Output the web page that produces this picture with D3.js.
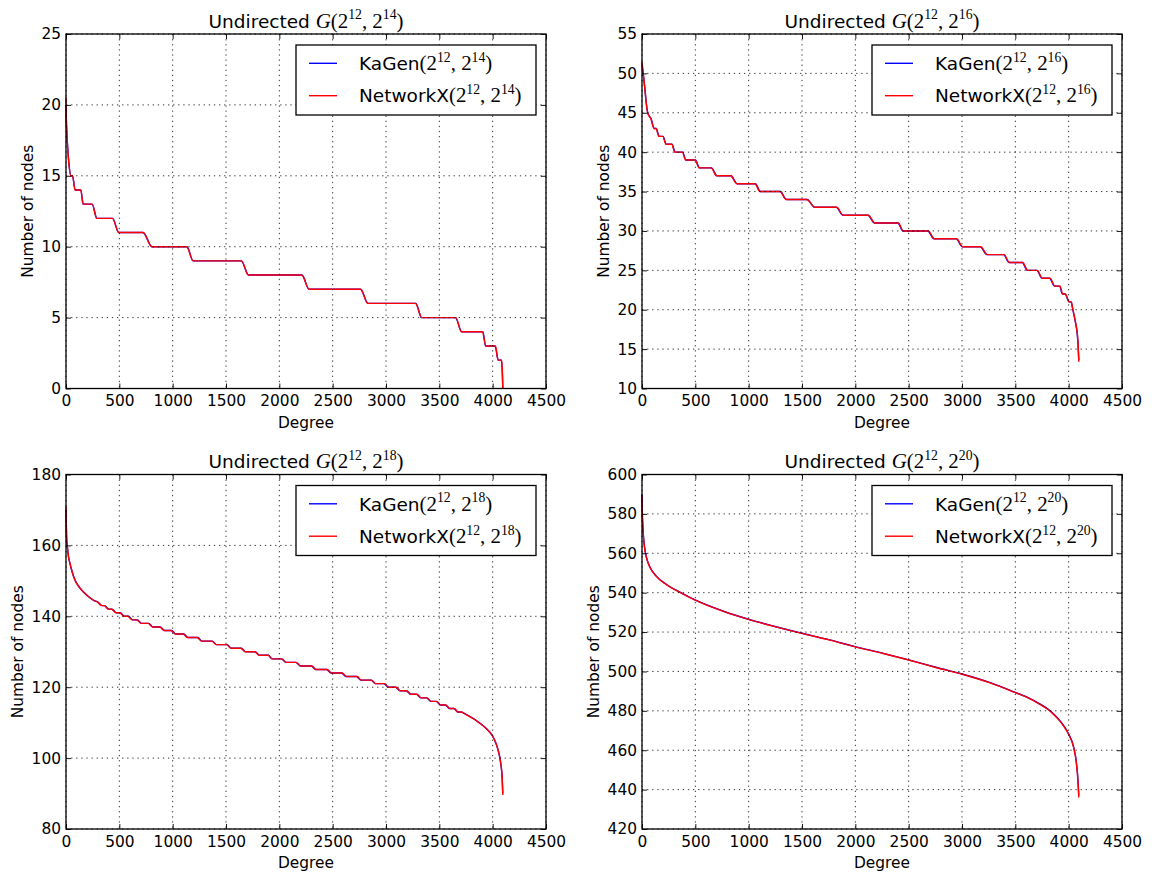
<!DOCTYPE html>
<html>
<head>
<meta charset="utf-8">
<script src="https://cdn.jsdelivr.net/npm/d3@7"></script>
<style>
  body { margin: 0; background: #ffffff; }
  svg { display: block; }
</style>
</head>
<body>
<svg id="fig" width="1152" height="876"></svg>
<script>
// ---------- shared tick values ----------
const degreeTicks = [0, 500, 1000, 1500, 2000, 2500, 3000, 3500, 4000, 4500];
const yTicks14 = [0, 5, 10, 15, 20, 25];
const yTicks16 = [10, 15, 20, 25, 30, 35, 40, 45, 50, 55];
const yTicks18 = [80, 100, 120, 140, 160, 180];
const yTicks20 = [420, 440, 460, 480, 500, 520, 540, 560, 580, 600];

// ---------- G(2^12, 2^14): sorted degree sequences ----------
const rank14Nx = [0, 3, 8, 15, 25, 45, 62, 84, 137, 162, 247, 287, 434, 497, 725, 803, 1131, 1193, 1647, 1709, 2209, 2281, 2765, 2827, 3275, 3337, 3656, 3706, 3903, 3937, 4027, 4050, 4085, 4092, 4095];
const deg14Nx  = [20.5, 19, 18, 17, 16, 15, 15, 14, 14, 13, 13, 12, 12, 11, 11, 10, 10, 9, 9, 8, 8, 7, 7, 6, 6, 5, 5, 4, 4, 3, 3, 2, 2, 1, 0];
const rank14Ka = [0, 3, 8, 16, 26, 47, 60, 87, 140, 160, 244, 291, 438, 493, 721, 807, 1136, 1190, 1642, 1713, 2214, 2277, 2760, 2832, 3281, 3332, 3650, 3711, 3909, 3933, 4021, 4054, 4083, 4091, 4095];
const deg14Ka  = [20, 19, 18, 17, 16, 15, 15, 14, 14, 13, 13, 12, 12, 11, 11, 10, 10, 9, 9, 8, 8, 7, 7, 6, 6, 5, 5, 4, 4, 3, 3, 2, 2, 1, 0];

// ---------- G(2^12, 2^16) ----------
const rank16Nx = [0, 4, 12, 28, 37, 53, 84, 112, 131, 159, 194, 225, 278, 309, 378, 409, 497, 537, 647, 700, 831, 888, 1059, 1106, 1294, 1350, 1544, 1622, 1825, 1887, 2122, 2184, 2403, 2450, 2684, 2741, 2950, 3006, 3175, 3237, 3394, 3444, 3569, 3616, 3706, 3753, 3825, 3872, 3919, 3944, 3969, 4006, 4025, 4040, 4056, 4070, 4081, 4089, 4095];
const deg16Nx  = [51.5, 51, 50, 47.9, 46.6, 45, 44.2, 43, 43, 42, 42, 41, 41, 40, 40, 39, 39, 38, 38, 37, 37, 36, 36, 35, 35, 34, 34, 33, 33, 32, 32, 31, 31, 30, 30, 29, 29, 28, 28, 27, 27, 26, 26, 25, 25, 24, 24, 23, 23, 22, 22, 21, 21, 20, 19, 18, 17, 15.5, 13.4];
const rank16Ka = [0, 4, 12, 29, 38, 54, 86, 115, 133, 162, 197, 228, 281, 312, 381, 412, 500, 540, 651, 704, 835, 892, 1063, 1110, 1298, 1354, 1548, 1618, 1821, 1883, 2118, 2180, 2398, 2446, 2679, 2737, 2946, 3002, 3171, 3233, 3390, 3440, 3565, 3612, 3702, 3749, 3821, 3868, 3915, 3941, 3966, 4004, 4023, 4039, 4055, 4069, 4080, 4088, 4095];
const deg16Ka  = [51, 50.6, 49.8, 47.8, 46.5, 45, 44.2, 43, 43, 42, 42, 41, 41, 40, 40, 39, 39, 38, 38, 37, 37, 36, 36, 35, 35, 34, 34, 33, 33, 32, 32, 31, 31, 30, 30, 29, 29, 28, 28, 27, 27, 26, 26, 25, 25, 24, 24, 23, 23, 22, 22, 21, 21, 20, 19, 18, 17, 15.6, 13.6];

// ---------- G(2^12, 2^18) ----------
const rank18Nx = [0, 3, 6, 12, 20, 37, 60, 84, 120, 163, 210, 256, 296,
  336, 358, 398, 428, 468, 504, 544, 580, 620, 664, 704, 770, 810, 880, 920, 984, 1024, 1098,
  1138, 1230, 1270, 1368, 1408, 1505, 1545, 1640, 1680, 1770, 1810, 1895, 1935, 2025, 2065, 2160,
  2200, 2305, 2345, 2450, 2490, 2590, 2630, 2730, 2770, 2865, 2905, 2985, 3025, 3095, 3135, 3195,
  3235, 3290, 3330, 3385, 3425, 3475, 3515, 3560, 3600, 3640, 3675, 3705,
  3756, 3820, 3881, 3940, 4000, 4037, 4055, 4069, 4078, 4084, 4090, 4095];
const deg18Nx  = [171, 166, 162, 160, 157.5, 155, 152.3, 150.2, 148.4, 146.9, 145.6, 144.6, 144,
  143, 143, 142, 142, 141, 141, 140, 140, 139, 139, 138, 138, 137, 137, 136, 136, 135, 135,
  134, 134, 133, 133, 132, 132, 131, 131, 130, 130, 129, 129, 128, 128, 127, 127,
  126, 126, 125, 125, 124, 124, 123, 123, 122, 122, 121, 121, 120, 120, 119, 119,
  118, 118, 117, 117, 116, 116, 115, 115, 114, 114, 113, 113,
  112.2, 111.1, 109.8, 108.3, 106.2, 103.7, 101.8, 99.9, 98, 96.6, 94, 89.6];
const rank18Ka = [0, 3, 6, 12, 21, 38, 61, 86, 122, 165, 212, 258, 300,
  340, 362, 402, 432, 472, 508, 548, 586, 626, 670, 710, 776, 816, 884, 924, 990, 1030, 1104,
  1144, 1236, 1276, 1372, 1412, 1510, 1550, 1644, 1684, 1774, 1814, 1898, 1930, 2020, 2060, 2155,
  2195, 2300, 2340, 2444, 2484, 2584, 2624, 2724, 2764, 2860, 2900, 2980, 3020, 3090, 3130, 3190,
  3230, 3286, 3326, 3380, 3420, 3470, 3510, 3556, 3596, 3636, 3672, 3702,
  3752, 3816, 3878, 3938, 3998, 4035, 4054, 4068, 4077, 4083, 4089, 4095];
const deg18Ka  = [170, 165.5, 162, 159.8, 157.3, 154.8, 152.2, 150.1, 148.3, 146.8, 145.5, 144.5, 144,
  143, 143, 142, 142, 141, 141, 140, 140, 139, 139, 138, 138, 137, 137, 136, 136, 135, 135,
  134, 134, 133, 133, 132, 132, 131, 131, 130, 130, 129, 129, 128, 128, 127, 127,
  126, 126, 125, 125, 124, 124, 123, 123, 122, 122, 121, 121, 120, 120, 119, 119,
  118, 118, 117, 117, 116, 116, 115, 115, 114, 114, 113, 113,
  112.3, 111.2, 109.9, 108.4, 106.3, 103.8, 101.9, 100, 98.2, 96.8, 94.3, 90];

// ---------- G(2^12, 2^20) ----------
const rank20 = [0, 2, 6, 14, 22, 38, 69, 132, 226, 351, 498, 758, 999, 1228, 1500, 1760, 1998, 2262, 2500, 2763, 3001, 3264, 3502, 3620, 3734, 3800, 3859, 3910, 3953, 4000, 4047, 4072, 4088, 4095];
const deg20Nx = [589, 582, 575.5, 568, 563.6, 558.5, 553.5, 548.4, 544.2, 540.3, 536.2, 530.6, 526.4, 523, 519.3, 515.9, 512.5, 509.1, 505.8, 501.9, 498.6, 494.2, 489.2, 486.6, 483.2, 480.9, 478.2, 475.3, 472.3, 468, 461.3, 453.6, 443.5, 436];
const deg20Ka = [590, 583, 576, 568.5, 564, 558.8, 553.7, 548.5, 544.3, 540.4, 536.3, 530.7, 526.5, 523.1, 519.4, 516, 512.6, 509.2, 505.9, 502, 498.7, 494.3, 489.3, 486.7, 483.4, 481.1, 478.4, 475.5, 472.5, 468.2, 461.6, 454, 444.2, 437];

// ---------- styling ----------
const sansFont = "'DejaVu Sans', sans-serif";
const serifFont = "'Liberation Serif', 'DejaVu Serif', serif";
const tickFont = 15.4;
const bigFont = 18.5;
const PW = 480, PH = 354.5;

const panels = [
  { left: 66,  top: 34,    yDomain: [0, 25],    yTicks: yTicks14, exp: "14", ka: [rank14Ka, deg14Ka], nx: [rank14Nx, deg14Nx] },
  { left: 642, top: 34,    yDomain: [10, 55],   yTicks: yTicks16, exp: "16", ka: [rank16Ka, deg16Ka], nx: [rank16Nx, deg16Nx] },
  { left: 66,  top: 474.5, yDomain: [80, 180],  yTicks: yTicks18, exp: "18", ka: [rank18Ka, deg18Ka], nx: [rank18Nx, deg18Nx] },
  { left: 642, top: 474.5, yDomain: [420, 600], yTicks: yTicks20, exp: "20", ka: [rank20, deg20Ka],   nx: [rank20, deg20Nx] }
];

const svg = d3.select("#fig");
svg.append("rect").attr("width", 1152).attr("height", 876).attr("fill", "#ffffff");

// Writes mixed text: plain words in sans, math in serif with raised exponents.
function writeMath(textSel, parts, base) {
  let raised = false;
  parts.forEach(([str, kind]) => {
    const t = textSel.append("tspan").text(str);
    if (kind === "rm") {
      t.attr("font-family", sansFont).attr("font-size", base);
    } else {
      t.attr("font-family", serifFont).attr("font-size", kind === "sup" ? base * 0.74 : base * 1.13);
      if (kind === "it") t.attr("font-style", "italic");
    }
    const shift = base * 0.45;
    if (kind === "sup" && !raised) { t.attr("dy", -shift); raised = true; }
    else if (kind !== "sup" && raised) { t.attr("dy", shift); raised = false; }
  });
}

function argParts(exp) {
  return [["(2", "m"], ["12", "sup"], [", 2", "m"], [exp, "sup"], [")", "m"]];
}

panels.forEach(p => {
  const g = svg.append("g");
  const x = d3.scaleLinear().domain([0, 4500]).range([p.left, p.left + PW]);
  const y = d3.scaleLinear().domain(p.yDomain).range([p.top + PH, p.top]);

  const line = d3.line()
    .x(d => x(d[0]))
    .y(d => y(d[1]))
    .curve(d3.curveMonotoneX);

  // series: KaGen underneath, NetworkX on top
  g.append("path")
    .datum(d3.zip(p.ka[0], p.ka[1]))
    .attr("d", line)
    .attr("fill", "none")
    .attr("stroke", "#0000ff")
    .attr("stroke-width", 1.4);
  g.append("path")
    .datum(d3.zip(p.nx[0], p.nx[1]))
    .attr("d", line)
    .attr("fill", "none")
    .attr("stroke", "#ff0000")
    .attr("stroke-width", 1.4);

  // dotted grid
  const grid = g.append("g")
    .attr("stroke", "#000000")
    .attr("stroke-width", 0.8)
    .attr("stroke-dasharray", "1.3 3.8");
  grid.selectAll(".gx").data(degreeTicks).join("line")
    .attr("x1", d => x(d)).attr("x2", d => x(d))
    .attr("y1", p.top).attr("y2", p.top + PH);
  grid.selectAll(".gy").data(p.yTicks).join("line")
    .attr("x1", p.left).attr("x2", p.left + PW)
    .attr("y1", d => y(d)).attr("y2", d => y(d));

  const styleAxis = sel => {
    sel.select(".domain").remove();
    sel.selectAll(".tick line").attr("stroke", "#000").attr("stroke-width", 0.9);
    sel.selectAll("text").attr("fill", "#000");
    sel.attr("font-family", sansFont).attr("font-size", tickFont);
  };

  g.append("g")
    .attr("transform", `translate(0,${p.top + PH})`)
    .call(d3.axisBottom(x).tickValues(degreeTicks).tickFormat(d3.format("d"))
      .tickSizeInner(-5).tickSizeOuter(0).tickPadding(7))
    .call(styleAxis);
  g.append("g")
    .attr("transform", `translate(0,${p.top})`)
    .call(d3.axisTop(x).tickValues(degreeTicks).tickFormat("")
      .tickSizeInner(-5).tickSizeOuter(0))
    .call(styleAxis);
  const yAxisG = g.append("g")
    .attr("transform", `translate(${p.left},0)`)
    .call(d3.axisLeft(y).tickValues(p.yTicks).tickFormat(d3.format("d"))
      .tickSizeInner(-5).tickSizeOuter(0).tickPadding(5))
    .call(styleAxis);
  g.append("g")
    .attr("transform", `translate(${p.left + PW},0)`)
    .call(d3.axisRight(y).tickValues(p.yTicks).tickFormat("")
      .tickSizeInner(-5).tickSizeOuter(0))
    .call(styleAxis);

  // frame
  g.append("rect")
    .attr("x", p.left).attr("y", p.top)
    .attr("width", PW).attr("height", PH)
    .attr("fill", "none")
    .attr("stroke", "#000")
    .attr("stroke-width", 1.3);

  // axis labels
  g.append("text")
    .attr("x", p.left + PW / 2)
    .attr("y", p.top + PH + 39)
    .attr("text-anchor", "middle")
    .attr("font-family", sansFont)
    .attr("font-size", tickFont)
    .text("Degree");

  const labelsLeft = d3.min(yAxisG.selectAll("text").nodes(), n => n.getBBox().x);
  const ylx = p.left + labelsLeft - 5 - 3.6;
  const yly = p.top + PH / 2;
  g.append("text")
    .attr("transform", `translate(${ylx},${yly}) rotate(-90)`)
    .attr("text-anchor", "middle")
    .attr("font-family", sansFont)
    .attr("font-size", tickFont)
    .text("Number of nodes");

  // title
  const title = g.append("text")
    .attr("x", p.left + PW / 2)
    .attr("y", p.top - 6.5)
    .attr("text-anchor", "middle");
  writeMath(title, [["Undirected ", "rm"], ["G", "it"]].concat(argParts(p.exp)), bigFont);

  // legend
  const lx = p.left + 230, ly = p.top + 11;
  const leg = g.append("g");
  leg.append("rect")
    .attr("x", lx).attr("y", ly)
    .attr("width", 240).attr("height", 70)
    .attr("fill", "#ffffff")
    .attr("stroke", "#000")
    .attr("stroke-width", 1.3);
  const entries = [
    { name: "KaGen", color: "#0000ff", dy: 18.3 },
    { name: "NetworkX", color: "#ff0000", dy: 50.7 }
  ];
  entries.forEach(e => {
    leg.append("line")
      .attr("x1", lx + 13).attr("x2", lx + 41)
      .attr("y1", ly + e.dy).attr("y2", ly + e.dy)
      .attr("stroke", e.color)
      .attr("stroke-width", 1.4);
    const t = leg.append("text")
      .attr("x", lx + 63)
      .attr("y", ly + e.dy + 6.7);
    writeMath(t, [[e.name, "rm"]].concat(argParts(p.exp)), bigFont);
  });
});
</script>
</body>
</html>
